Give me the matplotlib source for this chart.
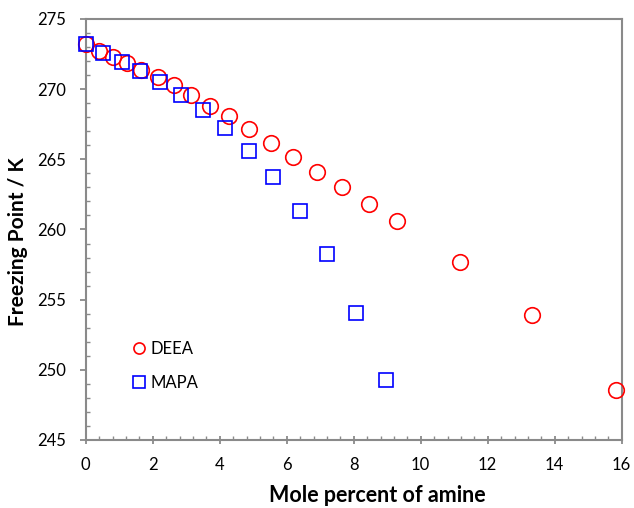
import matplotlib
matplotlib.use("Agg")
import matplotlib.pyplot as plt
from matplotlib.ticker import MultipleLocator
from matplotlib.lines import Line2D

deea_x = [0, 0.40, 0.81, 1.23, 1.65, 2.15, 2.64, 3.14, 3.71, 4.28, 4.87, 5.52,
          6.18, 6.90, 7.64, 8.46, 9.30, 11.17, 13.32, 15.82]
deea_y = [273.20, 272.74, 272.31, 271.84, 271.37, 270.85, 270.30, 269.59, 268.82,
          268.09, 267.14, 266.15, 265.19, 264.08, 263.06, 261.82, 260.59, 257.67,
          253.94, 248.58]
mapa_x = [0, 0.53, 1.07, 1.62, 2.22, 2.84, 3.49, 4.15, 4.87, 5.60, 6.40, 7.21, 8.08, 8.96]
mapa_y = [273.22, 272.60, 271.96, 271.32, 270.54, 269.59, 268.52, 267.21, 265.60,
          263.73, 261.32, 258.28, 254.08, 249.29]
series_labels = ['DEEA', 'MAPA']

plt.rcParams['font.family'] = ['Lato', 'DejaVu Sans']
fig = plt.figure(figsize=(6.34, 5.08), dpi=100)
ax = fig.add_axes([0.1352, 0.1339, 0.8454, 0.8287])

red = '#FF0000'
blue = '#0000FF'
ax.plot(deea_x, deea_y, linestyle='none', marker='o', markersize=11.2,
        markerfacecolor='none', markeredgecolor=red, markeredgewidth=1.2, clip_on=False, zorder=3)
ax.plot(mapa_x, mapa_y, linestyle='none', marker='s', markersize=9.6,
        markerfacecolor='none', markeredgecolor=blue, markeredgewidth=1.2, clip_on=False, zorder=3)

ax.set_xlim(0, 16)
ax.set_ylim(245, 275)
ax.xaxis.set_major_locator(MultipleLocator(2))
ax.xaxis.set_minor_locator(MultipleLocator(0.4))
ax.yaxis.set_major_locator(MultipleLocator(5))
ax.yaxis.set_minor_locator(MultipleLocator(1))

gray = '#8a8a8a'
for s in ax.spines.values():
    s.set_color(gray)
    s.set_linewidth(1.5)
ax.tick_params(axis='x', which='major', direction='inout', length=5.5, width=1.3, color=gray,
               labelsize=12, pad=9.5)
ax.tick_params(axis='x', which='minor', direction='in', length=3.0, width=1, color=gray)
ax.tick_params(axis='y', which='major', direction='out', length=4.3, width=1.3, color=gray,
               labelsize=12, pad=9.6)
ax.tick_params(axis='y', which='minor', direction='in', length=2.9, width=1, color=gray)

ax.set_xlabel('Mole percent of amine', fontsize=15.5, fontweight='bold', va='top')
ax.xaxis.set_label_coords(0.5435, -0.108)
ax.set_ylabel('Freezing Point / K', fontsize=15, fontweight='bold')
ax.yaxis.set_label_coords(-0.107, 0.471)

handles = [
    Line2D([], [], linestyle='none', marker='o', markersize=8, markerfacecolor='none',
           markeredgecolor=red, markeredgewidth=1.2),
    Line2D([], [], linestyle='none', marker='s', markersize=8.2, markerfacecolor='none',
           markeredgecolor=blue, markeredgewidth=1.2),
]
ax.legend(handles, series_labels, loc='center left', bbox_to_anchor=(0.0875, 0.176),
          frameon=False, fontsize=12, handlelength=0.8, handletextpad=0.25,
          labelspacing=1.12, borderpad=0, borderaxespad=0)

fig.savefig('out.png', dpi=100)
